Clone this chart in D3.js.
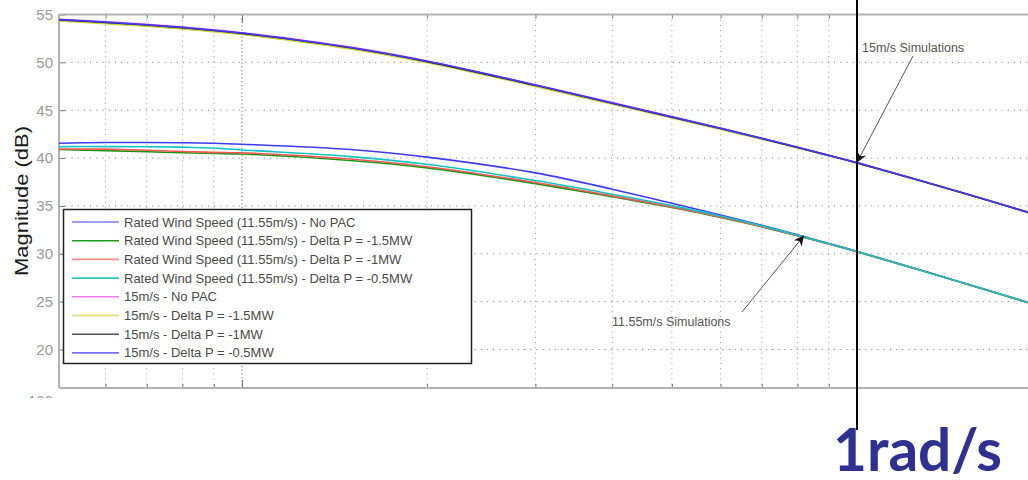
<!DOCTYPE html>
<html>
<head>
<meta charset="utf-8">
<script src="https://cdn.jsdelivr.net/npm/d3@7"></script>
<style>
  html, body { margin: 0; padding: 0; background: #fff; }
  svg { display: block; }
</style>
</head>
<body>
<svg id="chart" width="1028" height="480"></svg>
<script>
(function (d3) {
    'use strict';

    // frequency points (rad/s) shared by every series
    var freqs = [0.05, 0.06, 0.07, 0.08, 0.09, 0.1, 0.15, 0.2, 0.3, 0.4, 0.5, 0.6, 0.7, 0.8, 0.9, 1.0, 1.5, 2.0];

    // rated wind speed (11.55 m/s) magnitudes, dB
    var ratedNoPac = [41.55, 41.62, 41.62, 41.6, 41.55, 41.45, 40.9, 40.1, 38.45, 36.75, 35.28, 34.06, 32.97, 31.98, 31.08, 30.25, 26.9, 24.46];
    var ratedD15 = [40.9, 40.78, 40.66, 40.55, 40.48, 40.42, 39.75, 38.98, 37.33, 35.95, 34.83, 33.8, 32.82, 31.88, 31.02, 30.21, 26.88, 24.44];
    var ratedD1 = [40.95, 40.93, 40.82, 40.68, 40.6, 40.55, 39.9, 39.1, 37.45, 36.05, 34.9, 33.85, 32.85, 31.9, 31.03, 30.22, 26.89, 24.45];
    var ratedD05 = [41.2, 41.2, 41.18, 41.14, 41.05, 40.85, 40.15, 39.35, 37.65, 36.22, 35.03, 33.95, 32.92, 31.94, 31.05, 30.23, 26.9, 24.46];

    // 15 m/s magnitudes, dB
    var highNoPac = [54.52, 54.24, 53.97, 53.69, 53.4, 53.1, 51.59, 50.15, 47.67, 45.79, 44.34, 43.13, 42.08, 41.15, 40.3, 39.53, 36.3, 33.9];
    var highD15 = [54.33, 54.05, 53.78, 53.5, 53.21, 52.91, 51.4, 49.96, 47.49, 45.62, 44.19, 43.0, 41.97, 41.05, 40.22, 39.46, 36.25, 33.85];
    var highD1 = [54.45, 54.17, 53.9, 53.62, 53.33, 53.03, 51.52, 50.08, 47.6, 45.72, 44.28, 43.08, 42.04, 41.11, 40.27, 39.5, 36.28, 33.88];
    var highD05 = [54.48, 54.2, 53.93, 53.65, 53.36, 53.06, 51.55, 50.11, 47.63, 45.75, 44.3, 43.1, 42.06, 41.13, 40.28, 39.51, 36.29, 33.89];

    var seriesNames = [
        'Rated Wind Speed (11.55m/s) - No PAC',
        'Rated Wind Speed (11.55m/s) - Delta P = -1.5MW',
        'Rated Wind Speed (11.55m/s) - Delta P = -1MW',
        'Rated Wind Speed (11.55m/s) - Delta P = -0.5MW',
        '15m/s - No PAC',
        '15m/s - Delta P = -1.5MW',
        '15m/s - Delta P = -1MW',
        '15m/s - Delta P = -0.5MW'
    ];
    var seriesValues = [ratedNoPac, ratedD15, ratedD1, ratedD05, highNoPac, highD15, highD1, highD05];
    var seriesColors = ['#3c3cff', '#109a10', '#ff5555', '#10c4c4', '#ff4cff', '#d4d42c', '#222222', '#3c3cff'];
    var legendColors = ['#7c7cff', '#1c9c1c', '#ff8a8a', '#2cc8c8', '#f07cf0', '#dcdc74', '#555555', '#7474ff'];

    var yTicks = [20, 25, 30, 35, 40, 45, 50, 55];

    var width = 1028, height = 480;
    var plotLeft = 59, plotTop = 14.5, plotBottom = 388, plotRight = 1028;

    var svg = d3.select('#chart');

    var x = d3.scaleLog().domain([0.1, 1]).range([242, 857]);
    var y = d3.scaleLinear().domain([20, 55]).range([349.5, 14.5]);

    var xTicks = d3.scaleLog()
        .domain([x.invert(plotLeft + 2), x.invert(plotRight)])
        .ticks()
        .filter(function (t) { return x(t) > plotLeft + 2 && x(t) < plotRight; });

    function isMajor(t) {
        var l = Math.log10(t);
        return Math.abs(l - Math.round(l)) < 1e-6;
    }

    svg.append('defs').append('clipPath').attr('id', 'plotclip')
        .append('rect')
        .attr('x', plotLeft).attr('y', plotTop)
        .attr('width', plotRight - plotLeft).attr('height', plotBottom - plotTop);

    // grid
    var grid = svg.append('g');
    grid.selectAll('.hg')
        .data(yTicks.filter(function (v) { return v < 55; }))
        .enter().append('line')
        .attr('x1', plotLeft).attr('x2', plotRight)
        .attr('y1', function (d) { return y(d); })
        .attr('y2', function (d) { return y(d); })
        .attr('stroke', '#8c8c8c')
        .attr('stroke-width', 1)
        .attr('stroke-dasharray', '1.2,5');
    grid.selectAll('.vg')
        .data(xTicks)
        .enter().append('line')
        .attr('x1', function (d) { return x(d); })
        .attr('x2', function (d) { return x(d); })
        .attr('y1', plotTop).attr('y2', plotBottom)
        .attr('stroke', function (d) { return isMajor(d) ? '#666' : '#a8a8a8'; })
        .attr('stroke-width', 1)
        .attr('stroke-dasharray', function (d) { return isMajor(d) ? '1.2,2.5' : '1.2,4'; });

    // frame and ticks
    var frameColor = '#b2b2b2';
    var yAxis = svg.append('g')
        .attr('transform', 'translate(' + plotLeft + ',0)')
        .call(d3.axisLeft(y).tickValues(yTicks).tickSize(-6).tickSizeOuter(0).tickPadding(6));
    yAxis.select('.domain').remove();
    yAxis.selectAll('line').attr('stroke', '#777');
    yAxis.selectAll('text')
        .attr('fill', '#9a9a9a')
        .style('font-family', '"Liberation Sans", Arial, sans-serif')
        .style('font-size', '15px');

    var bottomAxis = svg.append('g')
        .attr('transform', 'translate(0,' + plotBottom + ')')
        .call(d3.axisBottom(x).tickValues(xTicks).tickFormat('').tickSizeOuter(0));
    bottomAxis.select('.domain').remove();
    bottomAxis.selectAll('.tick line')
        .attr('y2', function (d) { return isMajor(d) ? -8 : -4; })
        .attr('stroke', '#777');

    var topAxis = svg.append('g')
        .attr('transform', 'translate(0,' + plotTop + ')')
        .call(d3.axisTop(x).tickValues(xTicks).tickFormat('').tickSizeOuter(0));
    topAxis.select('.domain').remove();
    topAxis.selectAll('.tick line')
        .attr('y2', function (d) { return isMajor(d) ? 8 : 4; })
        .attr('stroke', '#777');

    svg.append('line')
        .attr('x1', plotLeft).attr('x2', plotRight)
        .attr('y1', plotTop).attr('y2', plotTop)
        .attr('stroke', frameColor).attr('stroke-width', 2);
    svg.append('line')
        .attr('x1', plotLeft).attr('x2', plotRight)
        .attr('y1', plotBottom).attr('y2', plotBottom)
        .attr('stroke', frameColor).attr('stroke-width', 2);
    svg.append('line')
        .attr('x1', plotLeft).attr('x2', plotLeft)
        .attr('y1', plotTop).attr('y2', plotBottom)
        .attr('stroke', frameColor).attr('stroke-width', 2);

    // curves
    var line = d3.line()
        .x(function (d) { return x(d[0]); })
        .y(function (d) { return y(d[1]); })
        .curve(d3.curveCatmullRom.alpha(0.5));

    svg.append('g').attr('clip-path', 'url(#plotclip)')
        .selectAll('path')
        .data(seriesValues)
        .enter().append('path')
        .attr('d', function (vals) {
            return line(freqs.map(function (f, i) { return [f, vals[i]]; }));
        })
        .attr('fill', 'none')
        .attr('stroke', function (d, i) { return seriesColors[i]; })
        .attr('stroke-width', 1.6);

    // y label
    svg.append('text')
        .attr('transform', 'translate(28,201) rotate(-90)')
        .attr('text-anchor', 'middle')
        .attr('textLength', 150)
        .attr('lengthAdjust', 'spacingAndGlyphs')
        .style('font-family', '"Liberation Sans", Arial, sans-serif')
        .style('font-size', '19px')
        .attr('fill', '#1a1a1a')
        .text('Magnitude (dB)');

    // legend
    var legend = svg.append('g');
    legend.append('rect')
        .attr('x', 63.5).attr('y', 209.5)
        .attr('width', 408).attr('height', 154)
        .attr('fill', '#fff')
        .attr('stroke', '#222').attr('stroke-width', 1.5);
    var rows = legend.selectAll('.row')
        .data(seriesNames)
        .enter().append('g')
        .attr('transform', function (d, i) { return 'translate(0,' + (222 + i * 18.7) + ')'; });
    rows.append('line')
        .attr('x1', 72).attr('x2', 119)
        .attr('stroke', function (d, i) { return legendColors[i]; })
        .attr('stroke-width', 1.6);
    rows.append('text')
        .attr('x', 124).attr('y', 4.5)
        .style('font-family', '"Liberation Sans", Arial, sans-serif')
        .style('font-size', '13px')
        .attr('fill', '#4a4a4a')
        .text(function (d) { return d; });

    // annotations
    svg.append('defs').append('marker')
        .attr('id', 'arrow')
        .attr('viewBox', '0 0 10 10')
        .attr('refX', 10).attr('refY', 5)
        .attr('markerWidth', 13).attr('markerHeight', 10)
        .attr('markerUnits', 'userSpaceOnUse')
        .attr('orient', 'auto')
        .append('path')
        .attr('d', 'M0,0L10,5L0,10L3,5Z')
        .attr('fill', '#111');

    function annotate(label, lx, ly, x0, y0, f, db) {
        svg.append('text')
            .attr('x', lx).attr('y', ly)
            .style('font-family', '"Liberation Sans", Arial, sans-serif')
            .style('font-size', '12.5px')
            .attr('fill', '#555')
            .text(label);
        svg.append('line')
            .attr('x1', x0).attr('y1', y0)
            .attr('x2', x(f)).attr('y2', y(db))
            .attr('stroke', '#555').attr('stroke-width', 1)
            .attr('marker-end', 'url(#arrow)');
    }
    annotate('15m/s Simulations', 862, 52, 913, 56, 1.0, 39.55);
    annotate('11.55m/s Simulations', 612, 326, 742, 312, 0.82, 31.9);

    // cut-off phase plot label below
    svg.append('text')
        .attr('x', 53).attr('y', 406)
        .attr('text-anchor', 'end')
        .style('font-family', '"Liberation Sans", Arial, sans-serif')
        .style('font-size', '15px')
        .attr('fill', '#9a9a9a')
        .text('-100');
    svg.append('rect')
        .attr('x', 0).attr('y', 398)
        .attr('width', width).attr('height', height - 398)
        .attr('fill', '#fff');

    // 1 rad/s marker
    svg.append('line')
        .attr('x1', x(1)).attr('x2', x(1))
        .attr('y1', 0).attr('y2', 430)
        .attr('stroke', '#000').attr('stroke-width', 2);
    svg.append('text')
        .attr('x', 833).attr('y', 471)
        .attr('textLength', 169)
        .attr('lengthAdjust', 'spacingAndGlyphs')
        .style('font-family', 'Lato, "Open Sans", sans-serif')
        .style('font-weight', 'bold')
        .style('font-size', '60px')
        .attr('fill', '#2e3192')
        .text('1rad/s');

}(window.d3));
</script>
</body>
</html>
